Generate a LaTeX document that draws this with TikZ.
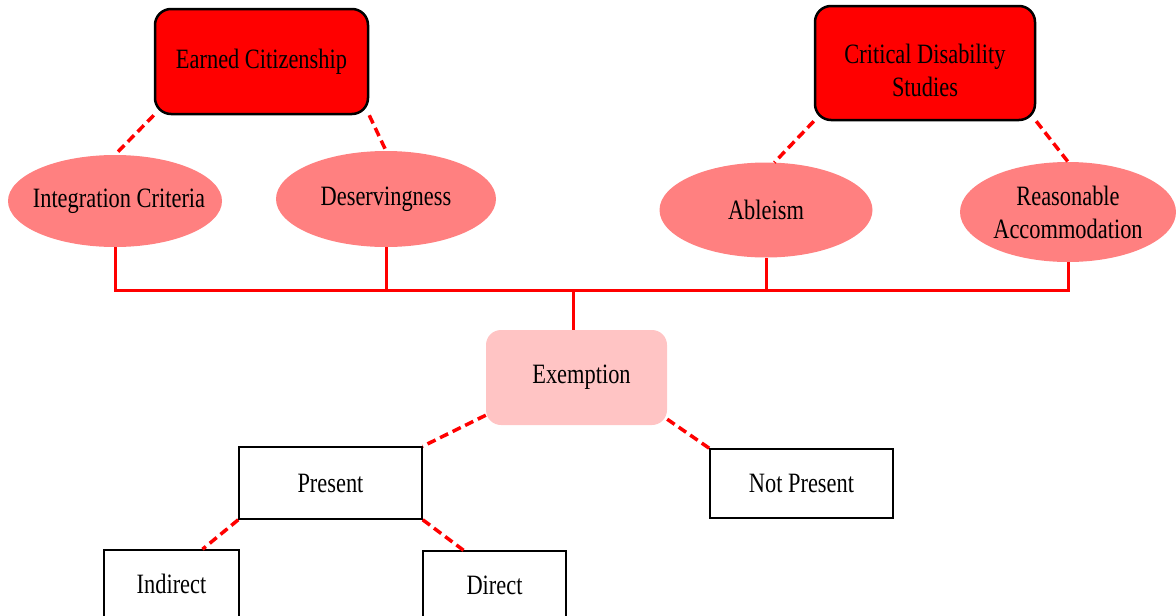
\documentclass[tikz,border=0pt]{standalone}
\usepackage{fontspec}
\setmainfont{Liberation Serif}[FakeStretch=0.80]
\usetikzlibrary{shapes.geometric}
\definecolor{boxred}{RGB}{255,0,0}
\definecolor{ovalred}{RGB}{255,128,128}
\definecolor{palered}{RGB}{255,196,196}
\begin{document}
\begin{tikzpicture}[x=1pt,y=-1pt,
    every node/.style={font=\fontsize{28}{33}\selectfont, align=center, inner sep=0pt},
    topbox/.style={draw=black, line width=2.5pt, fill=boxred, rounded corners=16pt},
    oval/.style={ellipse, fill=ovalred, inner xsep=-40pt, inner ysep=-12pt},
    midbox/.style={fill=palered, rounded corners=15pt},
    leafbox/.style={draw=black, line width=1.5pt, fill=white},
    link/.style={draw=red, line width=3.5pt, dash pattern=on 9pt off 5pt},
    bus/.style={draw=red, line width=3pt}]
      \useasboundingbox (0,0) rectangle (1176,616);

      \node[topbox, minimum width=213pt, minimum height=105pt] (earned) at (261.5,61.5) {Earned Citizenship};
      \node[topbox, minimum width=220pt, minimum height=114pt] (critical) at (925,63) {\rule{0pt}{34pt}Critical Disability\\Studies};

      \node[oval, minimum width=214pt, minimum height=92pt] (integ) at (115,201) {\hspace*{8pt}Integration Criteria};
      \node[oval, minimum width=220pt, minimum height=96pt] (deserv) at (386,199) {Deservingness};
      \node[oval, minimum width=213pt, minimum height=95pt] (ableism) at (766,210) {Ableism};
      \node[oval, minimum width=216pt, minimum height=100pt] (reason) at (1068,212) {Reasonable\\Accommodation};

      \node[midbox, minimum width=181pt, minimum height=95pt] (exempt) at (576.5,377.5) {\hspace*{10pt}Exemption};

      \node[leafbox, minimum width=183pt, minimum height=72pt] (present) at (330.5,483) {Present};
      \node[leafbox, minimum width=183pt, minimum height=69pt] (notpresent) at (801.5,483.5) {Not Present};
      \node[leafbox, minimum width=135pt, minimum height=68pt] (indirect) at (171.5,584) {Indirect};
      \node[leafbox, minimum width=143pt, minimum height=68pt] (direct) at (494.5,585) {Direct};

      \draw[link] (earned.south west) -- (integ.north);
      \draw[link] (earned.south east) -- (deserv.north);
      \draw[link] (critical.south west) -- (ableism.80);
      \draw[link] (critical.south east) -- (reason.north);

      \coordinate (hub) at (573,290);
      \draw[bus] (integ.south) -- (integ.south |- hub) -- (reason.south |- hub) -- (reason.south);
      \draw[bus] (deserv.south) -- (deserv.south |- hub);
      \draw[bus] (ableism.south) -- (ableism.south |- hub);
      \draw[bus] (hub) -- (hub |- exempt.north);

      \draw[link] ([yshift=10pt]exempt.south west) -- (present.north east);
      \draw[link] ([yshift=6pt]exempt.south east) -- (notpresent.north west);
      \draw[link] (present.south west) -- ([xshift=31pt]indirect.north);
      \draw[link] (present.south east) -- ([xshift=-31pt]direct.north);
\end{tikzpicture}
\end{document}
